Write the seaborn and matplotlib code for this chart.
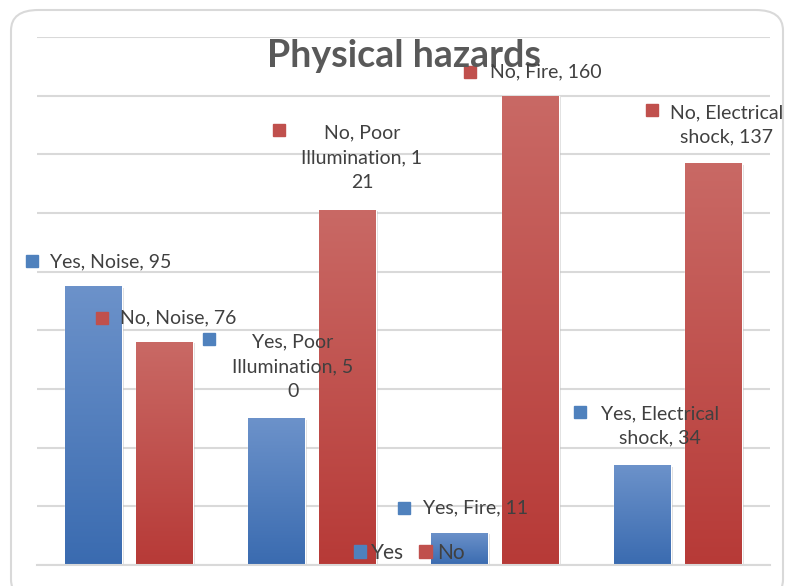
import matplotlib
matplotlib.use("Agg")
import matplotlib.pyplot as plt
import matplotlib.patheffects as pe
import numpy as np
import pandas as pd
import seaborn as sns
from matplotlib.colors import LinearSegmentedColormap
from matplotlib.patches import FancyBboxPatch, Patch, Rectangle

# data
hazards = ["Noise", "Poor Illumination", "Fire", "Electrical shock"]
answers = ["Yes", "No"]
yes_counts = [95, 50, 11, 34]
no_counts = [76, 121, 160, 137]

# data labels, wrapped the way the original chart wraps them
yes_labels = ["Yes, Noise, 95", "Yes, Poor\nIllumination, 5\n0",
              "Yes, Fire, 11", "Yes, Electrical\nshock, 34"]
no_labels = ["No, Noise, 76", "No, Poor\nIllumination, 1\n21",
             "No, Fire, 160", "No, Electrical\nshock, 137"]

colors = {"Yes": "#4F81BD", "No": "#C0504D"}
grad = {"Yes": ("#3A6BB0", "#6C92CA"), "No": ("#B73A37", "#C96965")}

W, H = 785, 586


def px(x, y):
    return x / W, 1 - y / H


df = pd.DataFrame({
    "hazard": hazards * 2,
    "answer": ["Yes"] * len(hazards) + ["No"] * len(hazards),
    "count": yes_counts + no_counts,
})

sns.set_style("white")
plt.rcParams['font.family'] = ['Lato', 'DejaVu Sans']

fig = plt.figure(figsize=(W / 100, H / 100), dpi=100)
ax = fig.add_axes([37 / W, 21 / H, 733 / W, 528 / H])

sns.barplot(data=df, x="hazard", y="count", hue="answer", hue_order=answers,
            palette=colors, width=0.776, gap=0.2, saturation=1,
            legend=False, ax=ax)

# excel-like vertical gradient + soft shadow on each bar
for ans, cont in zip(answers, ax.containers):
    cmap = LinearSegmentedColormap.from_list(ans, list(grad[ans]))
    for bar in cont:
        bar.set_path_effects([pe.SimplePatchShadow(offset=(1.5, -1), shadow_rgbFace="#999999", alpha=0.35),
                              pe.Normal()])
        x0, w, h = bar.get_x(), bar.get_width(), bar.get_height()
        im = ax.imshow(np.linspace(0, 1, 256).reshape(-1, 1), extent=(x0, x0 + w, 0, h),
                       origin="lower", cmap=cmap, aspect="auto", zorder=bar.get_zorder() + 0.1)
        im.set_clip_path(bar)

ax.set_xlim(-0.5, 3.5)
ax.set_ylim(0, 180)
ax.set_yticks(range(0, 181, 20))
ax.set_axisbelow(True)
ax.yaxis.grid(True, color="#d9d9d9", lw=1.5)
ax.tick_params(length=0, labelbottom=False, labelleft=False)
ax.set_xlabel("")
ax.set_ylabel("")
for s in ["top", "left", "right"]:
    ax.spines[s].set_visible(False)
ax.spines["bottom"].set_color("#d9d9d9")
ax.spines["bottom"].set_linewidth(1.5)

# rounded chart border
fig.add_artist(FancyBboxPatch(px(11, 600), 772 / W, 590 / H,
                              boxstyle="round,pad=0,rounding_size=0.035",
                              transform=fig.transFigure, fill=False,
                              ec="#d9d9d9", lw=1.5))

fig.text(*px(404, 67), "Physical hazards", fontsize=27, weight="bold",
         color="#595959", ha="center", va="baseline")

# data label positions (square centre, text anchor, alignment)
yes_pos = [((32, 261), (50, 262), "left"), ((209, 339), (293, 367), "center"),
           ((404, 508), (423, 508), "left"), ((580, 412), (660, 426), "center")]
no_pos = [((102, 318), (120, 318), "left"), ((279, 130), (362, 158), "center"),
          ((470, 72), (490, 72), "left"), ((652, 110), (727, 125), "center")]

for ans, labels, pos in [("Yes", yes_labels, yes_pos), ("No", no_labels, no_pos)]:
    for lab, (sq, tx, ha) in zip(labels, pos):
        fig.add_artist(Rectangle(px(sq[0] - 6, sq[1] + 6), 12 / W, 12 / H,
                                 transform=fig.transFigure, color=colors[ans]))
        fig.text(*px(*tx), lab, fontsize=14, color="#404040", ha=ha, va="center",
                 multialignment="center", linespacing=1.55)

ax.legend(handles=[Patch(color=colors[a], label=a) for a in answers],
          loc="center", bbox_to_anchor=px(409, 553), bbox_transform=fig.transFigure,
          ncol=2, frameon=False, handlelength=0.6, handleheight=0.6,
          handletextpad=0.25, columnspacing=0.7, fontsize=15, labelcolor="#404040")

fig.savefig("out.png", dpi=100)
